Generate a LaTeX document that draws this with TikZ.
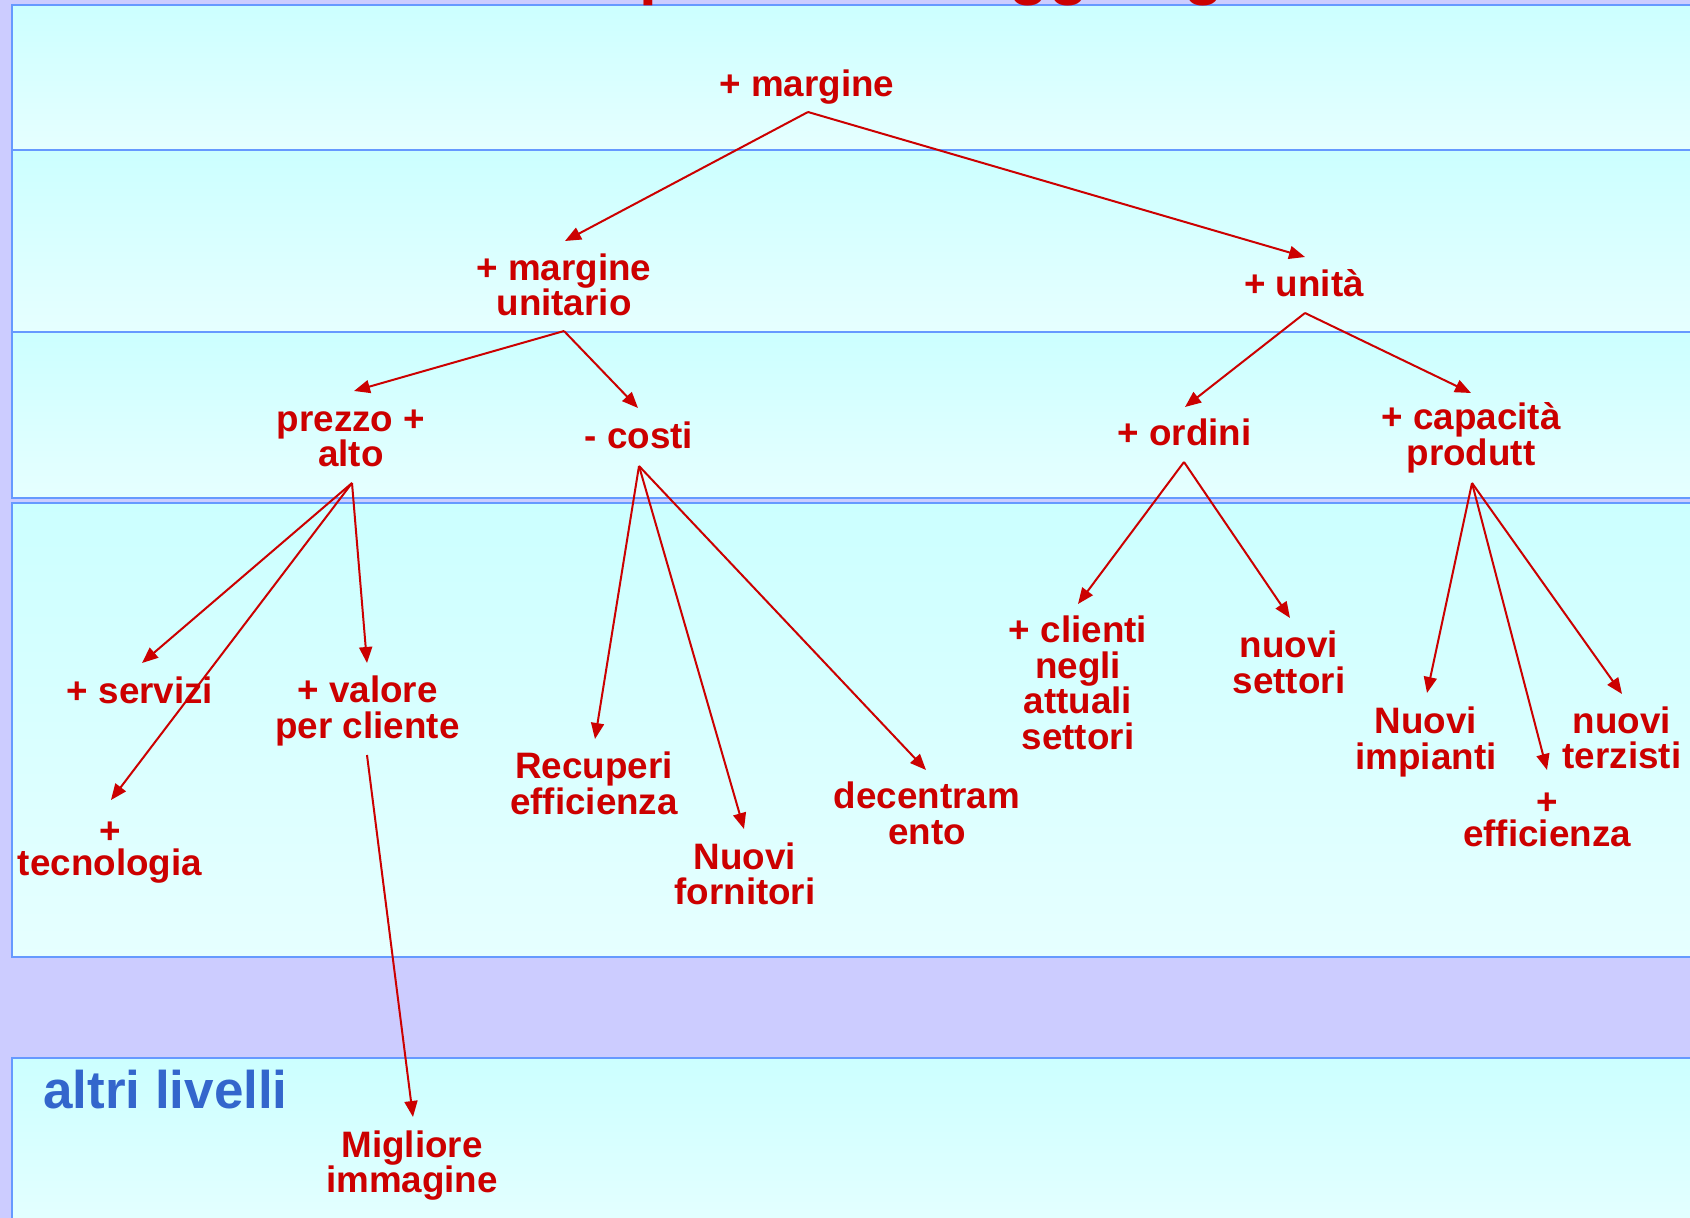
\documentclass[tikz,border=0pt]{standalone}
\usepackage{fontspec}
\setmainfont{Liberation Sans}
\usetikzlibrary{arrows.meta,calc}
\definecolor{bg}{HTML}{CCCCFF}
\definecolor{bandline}{HTML}{6699FF}
\definecolor{bandtop}{HTML}{CCFFFF}
\definecolor{bandbot}{HTML}{E6FFFF}
\definecolor{redtxt}{HTML}{CC0000}
\definecolor{bluetxt}{HTML}{3366CC}
\begin{document}
\begin{tikzpicture}[x=1pt,y=-1pt,
  band/.style={draw=bandline, line width=2pt, top color=bandtop, bottom color=bandbot},
  lbl/.style={text=redtxt, font=\bfseries\fontsize{36.8}{35.5}\selectfont, align=center, inner sep=0pt},
  arr/.style={draw=redtxt, line width=2pt, -{Triangle[length=16pt,width=13pt]}}]
\useasboundingbox (0,0) rectangle (1690,1218);
\fill[bg] (0,0) rectangle (1690,1218);
% bands
\path[band] (12,5) rectangle (1710,150);
\path[band] (12,150) rectangle (1710,332);
\path[band] (12,332) rectangle (1710,498);
\path[band] (12,503) rectangle (1710,957);
\path[band] (12,1058) rectangle (1710,1240);
% title (cut off at the top)
\begin{scope}
\clip (0,0) rectangle (1690,1218);
\node[text=redtxt, font=\bfseries\fontsize{64}{70}\selectfont, inner sep=0pt, anchor=base west] (title) at (366,-7.5) {Obiettivi per il loro raggiungimento};
\end{scope}
% nodes
\node[lbl] (m)  at (807,87)    {+ margine};
\node[lbl] (mu) at (564,285)   {+ margine\\unitario};
\node[lbl] (u)  at (1304,283)  {+ unità};
\node[lbl] (pa) at (351,438.6) {prezzo +\\alto};
\node[lbl] (c)  at (639,435)   {- costi};
\node[lbl] (o)  at (1184.5,432){+ ordini};
\node[lbl] (cp) at (1471,438)  {+ capacità\\produtt};
\node[lbl] (sv) at (140,690)   {+ servizi};
\node[lbl] (tc) at (110,853)   {+\\[-3.5pt]tecnologia};
\node[lbl] (vc) at (367.5,711) {+ valore\\per cliente};
\node[lbl] (re) at (594,783.5) {Recuperi\\efficienza};
\node[lbl] (nf) at (745,874)   {Nuovi\\fornitori};
\node[lbl] (de) at (927,813.5) {decentram\\ento};
\node[lbl] (cl) at (1078,683)  {+ clienti\\negli\\attuali\\settori};
\node[lbl] (ns) at (1289,662.5){nuovi\\settori};
\node[lbl] (ni) at (1426,742)  {Nuovi\\impianti};
\node[lbl] (ef) at (1547,819.5){+\\[-3.5pt]efficienza};
\node[lbl] (nt) at (1622,738)  {nuovi\\terzisti};
\node[lbl] (mi) at (412,1165.5){Migliore\\immagine};
\node[text=bluetxt, font=\bfseries\fontsize{53}{60}\selectfont, inner sep=0pt, anchor=base west] (al) at (43,1108) {altri livelli};
% connectors
\draw[arr] ($(m)+(1,25)$) -- ($(mu)+(1,-44)$);
\draw[arr] ($(m)+(1,25)$) -- ($(u)+(1,-26)$);
\draw[arr] ($(mu)+(0,46)$) -- ($(pa)+(3,-47.6)$);
\draw[arr] ($(mu)+(0,46)$) -- ($(c)+(-1,-27)$);
\draw[arr] ($(u)+(1,30)$) -- ($(o)+(0.5,-25)$);
\draw[arr] ($(u)+(1,30)$) -- ($(cp)+(0,-45)$);
\draw[arr] ($(pa)+(1,44.4)$) -- ($(sv)+(2,-27)$);
\draw[arr] ($(pa)+(1,44.4)$) -- ($(tc)+(1,-53)$);
\draw[arr] ($(pa)+(1,44.4)$) -- ($(vc)+(-0.5,-48)$);
\draw[arr] ($(c)+(0,31)$) -- ($(re)+(1,-44.5)$);
\draw[arr] ($(c)+(0,31)$) -- ($(nf)+(-1,-45)$);
\draw[arr] ($(c)+(0,31)$) -- ($(de)+(-1,-43.5)$);
\draw[arr] ($(o)+(-0.5,30)$) -- ($(cl)+(0,-79)$);
\draw[arr] ($(o)+(-0.5,30)$) -- ($(ns)+(1,-44.5)$);
\draw[arr] ($(cp)+(1,45)$) -- ($(ni)+(1,-49)$);
\draw[arr] ($(cp)+(1,45)$) -- ($(ef)+(0,-49.5)$);
\draw[arr] ($(cp)+(1,45)$) -- ($(nt)+(0,-44)$);
\draw[arr] ($(vc)+(-0.5,44)$) -- ($(mi)+(1,-48.5)$);
\end{tikzpicture}
\end{document}
